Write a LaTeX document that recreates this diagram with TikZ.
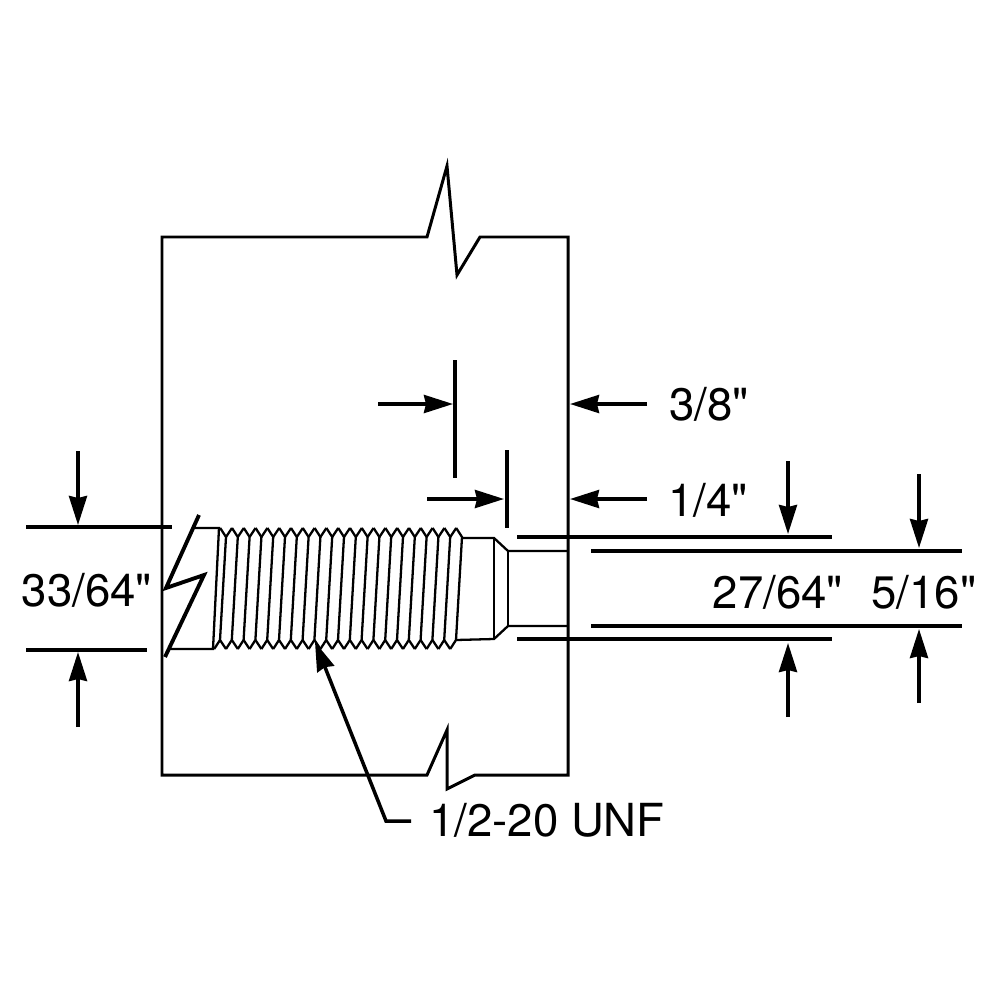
\documentclass[tikz,border=0pt]{standalone}
\usepackage{fontspec}
\newfontfamily\dimfont{TeX Gyre Heros}
\usetikzlibrary{arrows.meta}

\tikzset{
	part/.style={line width=0.85pt,line join=miter},
	thin part/.style={line width=0.65pt,line join=miter},
	dimline/.style={line width=0.95pt},
	dimarrow/.style={line width=1pt,-{Stealth[length=0.29cm,width=0.18cm,inset=0.02cm]}},
	dimlabel/.style={font=\dimfont\fontsize{12.95pt}{14pt}\selectfont,inner sep=0pt}
}

\begin{document}
\begin{tikzpicture}[x=0.01cm,y=-0.01cm]
	\useasboundingbox (0,0) rectangle (1000,1000);
	% block with its two break marks
	\draw[part] (162,237) -- (427,237) -- (447,166) -- (457,275) -- (480,237) -- (568,237)
		-- (568,775) -- (475,775) -- (447,789) -- (447,730) -- (427,775) -- (162,775) -- cycle;
	%
	% shank and break
	\draw[thin part] (195,528) -- (219,528) -- (213,649) -- (168,649);
	\draw[line width=1.1pt,line join=miter] (199,515) -- (166,588) -- (204,575) -- (165,657);
	%
	% thread
	\foreach \k in {0,...,20} {
		\pgfmathsetmacro{\tc}{220.2+11.8*\k}
		\pgfmathsetmacro{\tr}{226+11.8*\k}
		\pgfmathsetmacro{\bc}{214.2+11.8*\k}
		\pgfmathsetmacro{\br}{220+11.8*\k}
		\draw[thin part] (\tc,528) -- (\tr,537) -- (\br,640) -- (\bc,649);
	}
	\foreach \k in {0,...,19} {
		\pgfmathsetmacro{\tr}{226+11.8*\k}
		\pgfmathsetmacro{\tn}{232+11.8*\k}
		\pgfmathsetmacro{\br}{220+11.8*\k}
		\pgfmathsetmacro{\bn}{226+11.8*\k}
		\draw[thin part] (\tr,537) -- (\tn,528);
		\draw[thin part] (\br,640) -- (\bn,649);
	}
	%
	% neck and pilot
	\draw[thin part] (462,538) -- (494,538) -- (508,551) -- (568,551);
	\draw[thin part] (456,640) -- (494,639) -- (508,626) -- (568,626);
	\draw[thin part] (494,538) -- (494,639);
	\draw[thin part] (508,551) -- (508,626);
	%
	% labels
	\node[dimlabel] (L38) at (709,404) {3/8"};
	\node[dimlabel] (L14) at (708,500) {1/4"};
	\node[dimlabel] (L3364) at (87,590) {33/64"};
	\node[dimlabel] (L2764) at (778,592) {27/64"};
	\node[dimlabel] (L516) at (924,592) {5/16"};
	\node[dimlabel] (Lunf) at (547,820) {1/2-20 UNF};
	%
	% ends of the dimension lines
	\coordinate (A1) at (26,527);
	\coordinate (A2) at (172,527);
	\coordinate (B1) at (26,650);
	\coordinate (B2) at (147,650);
	\coordinate (C1) at (455,360);
	\coordinate (C2) at (455,478);
	\coordinate (D1) at (507,450);
	\coordinate (D2) at (507,528);
	\coordinate (F1) at (517,537);
	\coordinate (F2) at (832,537);
	\coordinate (G1) at (517,639);
	\coordinate (G2) at (832,639);
	\coordinate (H1) at (591,551);
	\coordinate (H2) at (962,551);
	\coordinate (I1) at (591,626);
	\coordinate (I2) at (962,626);
	%
	\path[dimline]
	(A1) edge (A2)
	(B1) edge (B2)
	(C1) edge (C2)
	(D1) edge (D2)
	(F1) edge (F2)
	(G1) edge (G2)
	(H1) edge (H2)
	(I1) edge (I2);
	%
	% arrows
	\coordinate (a1) at (78,451);
	\coordinate (a2) at (78,525);
	\coordinate (b1) at (78,727);
	\coordinate (b2) at (78,652);
	\coordinate (c1) at (378,404);
	\coordinate (c2) at (453,404);
	\coordinate (d1) at (647,404);
	\coordinate (d2) at (570,404);
	\coordinate (e1) at (427,499);
	\coordinate (e2) at (504,499);
	\coordinate (f1) at (647,499);
	\coordinate (f2) at (570,499);
	\coordinate (g1) at (788,461);
	\coordinate (g2) at (788,534);
	\coordinate (h1) at (788,717);
	\coordinate (h2) at (788,643);
	\coordinate (i1) at (919,474);
	\coordinate (i2) at (919,548);
	\coordinate (j1) at (919,703);
	\coordinate (j2) at (919,629);
	\coordinate (k1) at (411,821);
	\coordinate (k2) at (386,821);
	\coordinate (k3) at (315,642);
	%
	\path[dimarrow]
	(a1) edge (a2)
	(b1) edge (b2)
	(c1) edge (c2)
	(d1) edge (d2)
	(e1) edge (e2)
	(f1) edge (f2)
	(g1) edge (g2)
	(h1) edge (h2)
	(i1) edge (i2)
	(j1) edge (j2);
	\draw[dimarrow] (k1) -- (k2) -- (k3);
\end{tikzpicture}
\end{document}
